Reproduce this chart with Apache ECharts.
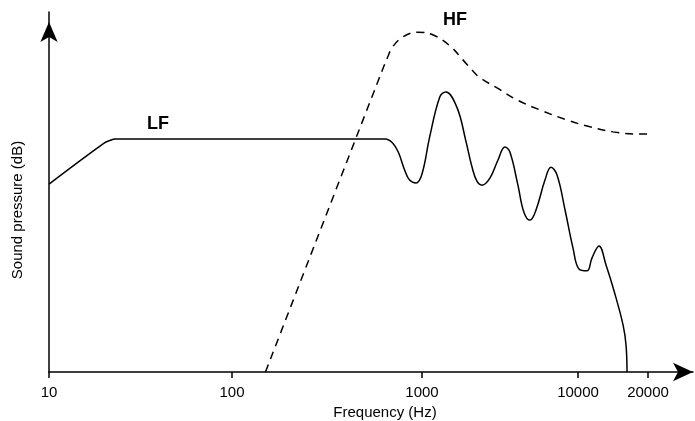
<!DOCTYPE html>
<html>
<head>
<meta charset="utf-8">
<title>LF / HF</title>
<script src="https://cdn.jsdelivr.net/npm/echarts@6/dist/echarts.min.js"></script>
<style>
  html, body { margin: 0; padding: 0; background: #fff; }
  #chart { width: 695px; height: 421px; }
</style>
</head>
<body>
<div id="chart"></div>
<script>
// tick labels (Hz) and where they sit along the drawn axis
const tickHz = [10, 100, 1000, 10000, 20000]
const tickPos = [0, 183, 373, 529, 599]

// LF driver response (solid)
const lfHz = [10, 20, 21.5, 23, 640, 700, 750, 810, 860, 930, 1000, 1120, 1300, 1420, 1675, 1915,
  2090, 2250, 2430, 2730, 3070, 3400, 3660, 4120, 4500, 4920, 5380, 6140, 6710, 7340, 8260, 9290,
  10100, 10930, 11490, 12310, 13200, 14290, 15620, 16090, 16250]
const lfLevel = [52.2, 63.6, 64.3, 64.7, 64.7, 63.6, 61.1, 56.1, 53.3, 52.5, 55, 65.3, 76.4, 77.8, 73.5, 64,
  57, 53, 51.9, 53.9, 58.9, 62.5, 61.1, 51.9, 44.4, 42.2, 45, 53.3, 56.9, 54.7, 45, 34.4,
  28.6, 28.1, 31.7, 35, 29.7, 22.5, 13.1, 7.5, 0]

// HF driver response (dashed)
const hfHz = [150, 590, 660, 700, 795, 950, 1180, 1510, 1830, 2090, 2360, 3030, 4060, 5700, 8500, 11260, 14140, 18480, 19810]
const hfLevel = [0, 81.1, 87.5, 90.3, 93.1, 94.4, 93.6, 90.6, 86.7, 83.9, 81.7, 78.9, 75.6, 72.8, 70, 68.1, 66.7, 66.1, 66.1]

// the sketch's frequency axis is only roughly logarithmic: interpolate between its ticks
function hzToPos (hz) {
  let lg = Math.log10(hz)
  let i = 0
  while (i < tickHz.length - 2 && lg > Math.log10(tickHz[i + 1])) i++
  let l0 = Math.log10(tickHz[i]), l1 = Math.log10(tickHz[i + 1])
  return tickPos[i] + (lg - l0) / (l1 - l0) * (tickPos[i + 1] - tickPos[i])
}

const font = '"Liberation Sans", Arial, sans-serif'
let chart = echarts.init(document.getElementById('chart'))

chart.setOption({
  animation: false,
  grid: { left: 49, right: 2, top: 12, bottom: 49, outerBoundsMode: 'none' },
  xAxis: {
    type: 'value',
    min: 0,
    max: 644,
    name: 'Frequency (Hz)',
    nameLocation: 'middle',
    nameGap: 33,
    nameTextStyle: { color: '#000', fontSize: 15, fontFamily: font, padding: [0, 0, 0, 28] },
    axisLine: {
      lineStyle: { color: '#000', width: 1.5 },
      symbol: ['none', 'arrow'],
      symbolSize: [14, 20]
    },
    axisTick: { show: true, customValues: tickPos, length: 6, lineStyle: { color: '#000', width: 1.5 } },
    axisLabel: {
      customValues: tickPos,
      color: '#000',
      fontSize: 15,
      fontFamily: font,
      margin: 13,
      formatter: v => String(tickHz[tickPos.indexOf(v)])
    },
    splitLine: { show: false }
  },
  yAxis: {
    type: 'value',
    min: 0,
    max: 100,
    name: 'Sound pressure (dB)',
    nameLocation: 'middle',
    nameGap: 24,
    nameTextStyle: { color: '#000', fontSize: 15, fontFamily: font, padding: [0, 36, 0, 0] },
    axisLine: {
      show: true,
      lineStyle: { color: '#000', width: 1.5 },
      symbol: ['none', 'arrow'],
      symbolSize: [13, 20],
      symbolOffset: [0, -10]
    },
    axisTick: { show: false },
    axisLabel: { show: false },
    splitLine: { show: false }
  },
  series: [
    {
      name: 'LF',
      type: 'line',
      data: lfHz.map((f, i) => [hzToPos(f), lfLevel[i]]),
      smooth: 0.4,
      showSymbol: false,
      lineStyle: { color: '#000', width: 1.5 }
    },
    {
      name: 'HF',
      type: 'line',
      data: hfHz.map((f, i) => [hzToPos(f), hfLevel[i]]),
      smooth: 0.4,
      showSymbol: false,
      lineStyle: { color: '#000', width: 1.5, type: [8, 6] }
    }
  ],
  graphic: [
    {
      type: 'text', left: 147, top: 115,
      style: { text: 'LF', fill: '#000', font: 'bold 18px ' + font }
    },
    {
      type: 'text', left: 443, top: 11,
      style: { text: 'HF', fill: '#000', font: 'bold 18px ' + font }
    }
  ]
})
</script>
</body>
</html>
